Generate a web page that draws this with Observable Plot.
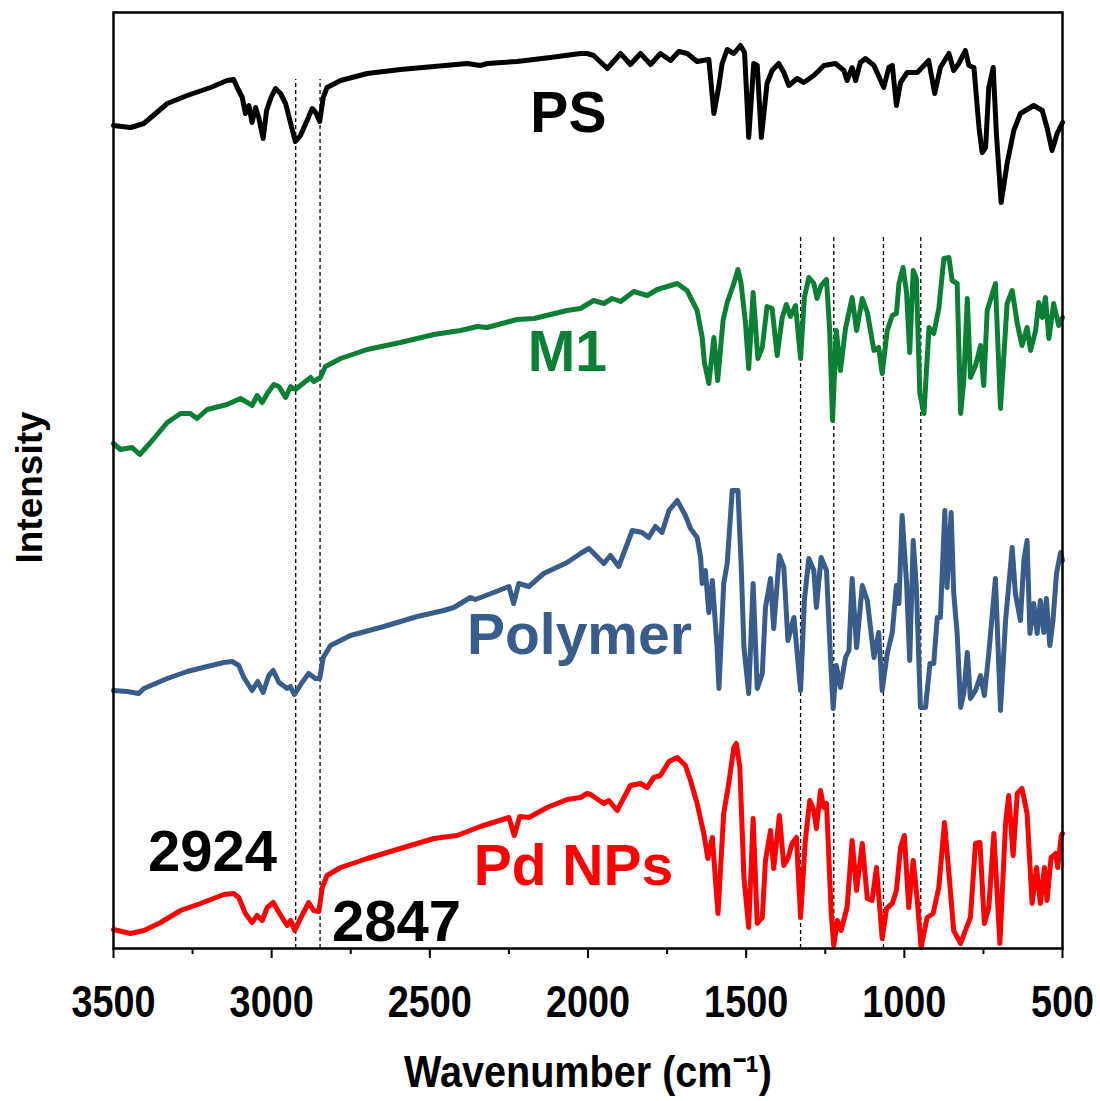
<!DOCTYPE html>
<html>
<head>
<meta charset="utf-8">
<script src="https://cdn.jsdelivr.net/npm/d3@7"></script>
<script src="https://cdn.jsdelivr.net/npm/@observablehq/plot@0.6"></script>
<style>
  html, body { margin: 0; padding: 0; background: #ffffff; }
  #chart { width: 1100px; height: 1101px; }
</style>
</head>
<body>
<div id="chart"></div>
<script>
// ---- Data (wavenumber cm^-1, intensity in arbitrary stacked units) ----
const psSpectrum = [[3500,823],[3446,821],[3404,825],[3330,845],[3267,853],[3193,861],[3141,868],[3120,869],[3109,861],[3093,851],[3083,835],[3072,843],[3062,826],[3051,841],[3041,831],[3027,810],[3016,838],[3002,851],[2988,860],[2972,855],[2956,845],[2940,825],[2925,807],[2909,813],[2888,828],[2872,840],[2861,836],[2848,827],[2837,851],[2825,861],[2782,868],[2698,875],[2593,879],[2487,882],[2382,885],[2340,883],[2319,885],[2224,887],[2119,891],[2024,895],[2003,895],[1982,893],[1939,880],[1897,895],[1866,884],[1834,895],[1802,884],[1771,895],[1739,888],[1713,897],[1686,895],[1655,887],[1618,889],[1602,835],[1586,863],[1576,885],[1560,899],[1539,895],[1518,903],[1505,896],[1492,811],[1476,885],[1465,883],[1452,811],[1434,865],[1418,878],[1397,885],[1381,876],[1365,863],[1339,870],[1318,866],[1286,873],[1254,883],[1218,885],[1191,878],[1181,868],[1165,881],[1154,868],[1139,886],[1123,890],[1096,883],[1065,861],[1049,881],[1038,883],[1025,843],[1012,866],[991,876],[959,876],[938,883],[923,888],[904,855],[886,881],[859,895],[844,878],[828,885],[807,898],[796,883],[780,881],[764,821],[754,796],[743,801],[733,861],[719,881],[709,815],[694,746],[675,785],[654,818],[633,835],[591,843],[564,838],[549,821],[533,798],[517,815],[500,826]];

const m1Spectrum = [[3500,505],[3478,499],[3441,501],[3417,494],[3383,506],[3330,526],[3288,535],[3257,535],[3236,530],[3204,539],[3141,544],[3099,550],[3077,546],[3062,543],[3046,553],[3030,546],[3014,555],[2993,564],[2977,562],[2956,551],[2940,562],[2925,559],[2877,571],[2867,567],[2846,571],[2830,582],[2782,590],[2698,599],[2593,606],[2487,614],[2403,618],[2350,622],[2319,621],[2224,629],[2171,630],[2066,638],[2024,640],[1982,648],[1950,645],[1924,650],[1897,647],[1855,657],[1813,653],[1781,659],[1718,665],[1687,658],[1655,638],[1639,611],[1632,586],[1618,565],[1602,611],[1590,568],[1573,628],[1560,646],[1539,665],[1526,679],[1516,665],[1502,625],[1492,580],[1478,656],[1463,590],[1449,601],[1434,642],[1418,640],[1402,593],[1386,631],[1373,644],[1360,632],[1344,643],[1328,590],[1316,651],[1302,671],[1286,665],[1276,650],[1263,663],[1246,669],[1236,618],[1227,528],[1215,618],[1202,578],[1186,620],[1165,651],[1151,618],[1133,650],[1117,636],[1096,598],[1081,601],[1070,575],[1054,618],[1038,633],[1025,635],[1017,665],[1004,681],[993,656],[983,596],[972,678],[962,670],[951,555],[938,535],[922,621],[907,615],[891,640],[875,690],[859,691],[849,668],[833,665],[822,535],[812,568],[801,650],[791,571],[775,583],[759,603],[749,563],[738,638],[712,665],[696,540],[675,645],[659,658],[643,625],[628,603],[612,621],[601,598],[585,618],[575,646],[564,631],[554,651],[543,610],[528,645],[512,623],[500,631]];

const polymerSpectrum = [[3500,258],[3457,257],[3420,255],[3404,260],[3330,270],[3267,277],[3204,282],[3151,286],[3125,287],[3104,283],[3088,271],[3062,258],[3044,267],[3027,256],[3009,273],[2995,278],[2977,266],[2951,260],[2941,262],[2928,254],[2904,266],[2883,275],[2862,270],[2848,270],[2837,291],[2814,303],[2751,313],[2645,322],[2540,332],[2456,338],[2424,341],[2372,351],[2356,349],[2298,356],[2250,362],[2235,345],[2219,365],[2187,362],[2140,375],[2066,386],[2024,395],[1997,400],[1950,385],[1929,393],[1903,382],[1860,418],[1829,416],[1808,411],[1787,422],[1766,416],[1744,438],[1718,448],[1692,433],[1676,420],[1655,411],[1644,391],[1639,365],[1629,378],[1618,336],[1607,368],[1592,301],[1586,260],[1571,365],[1560,385],[1544,458],[1526,458],[1516,385],[1507,301],[1492,255],[1478,365],[1465,260],[1449,275],[1439,341],[1423,370],[1413,320],[1395,393],[1381,381],[1368,308],[1349,331],[1328,258],[1316,348],[1302,390],[1286,378],[1278,341],[1263,391],[1246,378],[1233,288],[1225,240],[1215,283],[1202,261],[1186,291],[1175,298],[1165,370],[1151,301],[1133,363],[1117,348],[1096,291],[1081,316],[1070,258],[1054,295],[1038,316],[1025,363],[1017,345],[1007,433],[993,366],[983,288],[972,408],[962,361],[949,241],[933,241],[919,285],[907,285],[896,331],[886,331],[872,438],[865,361],[852,436],[844,356],[833,315],[822,241],[812,255],[801,296],[791,250],[775,258],[759,273],[747,253],[733,295],[712,370],[696,238],[680,328],[659,401],[649,355],[633,328],[622,388],[612,408],[603,315],[591,345],[580,315],[570,348],[559,316],[551,350],[540,303],[530,328],[519,375],[506,396],[500,388]];

const pdSpectrum = [[3500,19],[3446,15],[3404,18],[3351,26],[3288,38],[3225,45],[3151,54],[3120,55],[3104,51],[3083,35],[3062,26],[3046,33],[3030,28],[3014,41],[2995,46],[2977,36],[2951,23],[2940,28],[2927,18],[2909,30],[2883,46],[2867,38],[2851,37],[2840,61],[2825,73],[2782,81],[2698,90],[2593,100],[2487,110],[2414,113],[2340,122],[2250,131],[2233,113],[2216,132],[2187,131],[2129,141],[2066,149],[2024,151],[2003,155],[1992,154],[1950,145],[1934,148],[1908,138],[1866,163],[1834,165],[1813,161],[1792,171],[1771,173],[1744,187],[1718,191],[1692,183],[1676,168],[1655,145],[1634,115],[1621,90],[1607,111],[1589,35],[1571,135],[1555,165],[1539,201],[1531,205],[1520,181],[1507,71],[1492,21],[1478,130],[1465,25],[1449,31],[1439,88],[1423,118],[1413,80],[1395,133],[1381,83],[1368,90],[1355,105],[1341,111],[1328,31],[1313,108],[1299,148],[1286,138],[1278,120],[1265,158],[1255,141],[1246,145],[1231,35],[1223,3],[1212,28],[1200,18],[1181,41],[1165,108],[1151,58],[1133,105],[1117,50],[1102,48],[1088,81],[1070,10],[1056,40],[1038,45],[1025,58],[1012,101],[1000,113],[986,41],[972,88],[959,48],[947,1],[928,31],[909,35],[891,61],[873,126],[859,75],[844,18],[822,5],[807,18],[791,31],[775,105],[761,106],[747,25],[733,41],[717,115],[698,5],[680,125],[670,153],[656,93],[643,155],[628,160],[612,135],[596,45],[582,81],[570,45],[557,81],[549,48],[536,91],[522,95],[515,81],[504,113],[500,115]];

const seriesNames = ["PS", "M1", "Polymer", "Pd NPs"];
const seriesColors = ["#000000", "#0b8034", "#385d8a", "#ff0000"];
const seriesData = [psSpectrum, m1Spectrum, polymerSpectrum, pdSpectrum];
const labelWavenumber = [2062, 2065, 2027, 2046];
const labelIntensity = [835, 596, 313, 82];

const peakLabels = ["2924", "2847"];
const peakLabelWavenumber = [3187, 2605];
const peakLabelIntensity = [96, 26];

const dashedHigh = [2924, 2847];       // full-height dashed markers
const dashedLow = [1328, 1223, 1066, 948];
const dashedHighTop = 869;
const dashedLowTop = 713;

const majorTicks = [3500, 3000, 2500, 2000, 1500, 1000, 500];
const minorTicks = [3250, 2750, 2250, 1750, 1250, 750];

// ---- Build ----
const font = "'Liberation Sans', Arial, Helvetica, sans-serif";
const lineMarks = seriesData.map((s, i) =>
  Plot.line(s, {x: d => d[0], y: d => d[1], stroke: seriesColors[i],
    strokeWidth: 5, strokeLinejoin: "round", strokeLinecap: "round"}));

const labelRows = seriesNames.map((n, i) => ({n, x: labelWavenumber[i], y: labelIntensity[i], c: seriesColors[i]}));
const peakRows = peakLabels.map((n, i) => ({n, x: peakLabelWavenumber[i], y: peakLabelIntensity[i]}));

const chart = Plot.plot({
  width: 1100,
  height: 1101,
  marginLeft: 113,
  marginRight: 38,
  marginTop: 12,
  marginBottom: 153,
  style: {fontFamily: font, background: "#ffffff", color: "#000"},
  x: {domain: [3500, 500], label: null},
  y: {domain: [0, 936], axis: null},
  marks: [
    Plot.ruleX(dashedHigh, {x: d => d, y1: 0, y2: dashedHighTop, stroke: "#000", strokeWidth: 1.3, strokeDasharray: "4,3"}),
    Plot.ruleX(dashedLow, {x: d => d, y1: 0, y2: dashedLowTop, stroke: "#000", strokeWidth: 1.3, strokeDasharray: "4,3"}),
    ...lineMarks,
    Plot.text(labelRows, {x: "x", y: "y", text: "n", fill: d => d.c, fontSize: 57, fontWeight: "bold"}),
    Plot.text(peakRows, {x: "x", y: "y", text: "n", fill: "#000", fontSize: 58, fontWeight: "bold"}),
    Plot.frame({stroke: "#000", strokeWidth: 2.5}),
    Plot.axisX({ticks: majorTicks, tickSize: 10, tickPadding: 27, fontSize: 44, fontWeight: "bold",
      tickFormat: d => String(d), strokeWidth: 2, label: null}),
    Plot.axisX({ticks: minorTicks, tickSize: 6, tickFormat: () => "", strokeWidth: 2, label: null}),
    Plot.text(["Wavenumber (cm⁻¹)"], {frameAnchor: "bottom", dy: 124, fontSize: 45, fontWeight: "bold", textAnchor: "middle", lineAnchor: "middle", className: "xtitle"}),
    Plot.text(["Intensity"], {frameAnchor: "left", dx: -83, dy: 7, rotate: -90, fontSize: 37, fontWeight: "bold", textAnchor: "middle", lineAnchor: "middle"})
  ]
});

// condense x tick labels and title horizontally (as in reference)
function squeeze(textEl, k) {
  const t = textEl.getAttribute("transform");
  if (t) {
    textEl.setAttribute("transform", t + ` scale(${k},1)`);
  } else {
    const x = +(textEl.getAttribute("x") || 0);
    textEl.removeAttribute("x");
    textEl.setAttribute("transform", `translate(${x},0) scale(${k},1)`);
  }
}
chart.querySelectorAll('g[aria-label="x-axis tick label"] text').forEach(t => squeeze(t, 0.86));
chart.querySelectorAll('g.xtitle text, .xtitle text').forEach(t => squeeze(t, 0.88));

document.getElementById("chart").appendChild(chart);
</script>
</body>
</html>
